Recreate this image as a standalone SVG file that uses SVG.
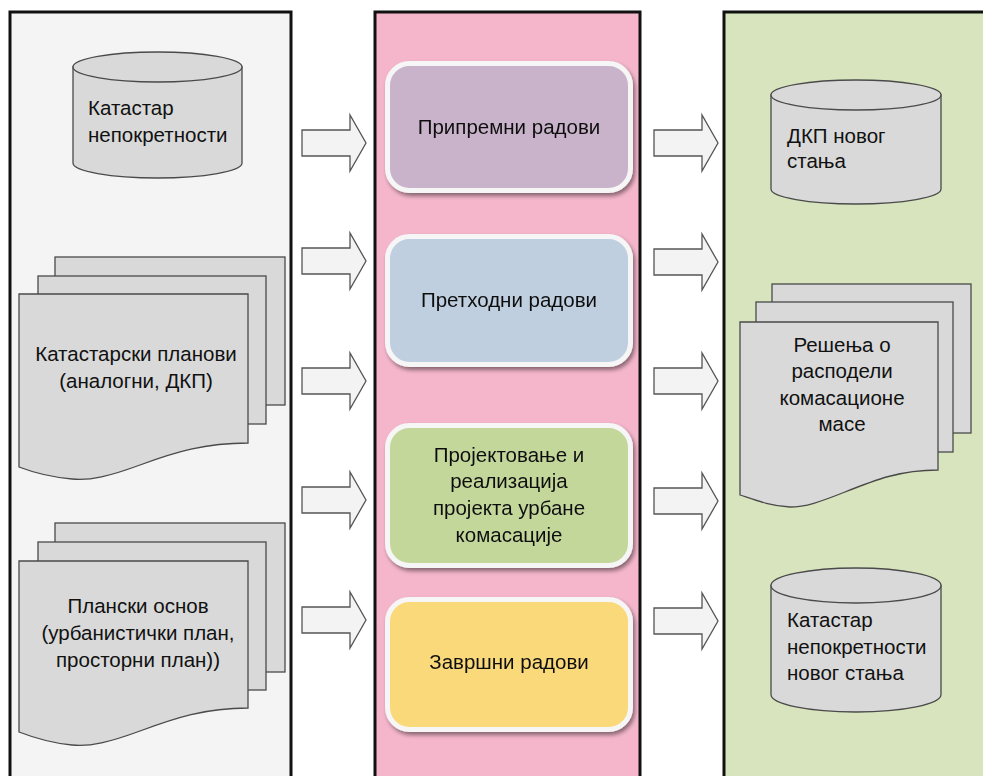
<svg xmlns="http://www.w3.org/2000/svg" width="983" height="776" viewBox="0 0 983 776">
<defs>
<style>
.panel{stroke:#111;stroke-width:3}
.shape{fill:#d9d9d9;stroke:#4a4a4a;stroke-width:1.3}
.arrow{fill:#f3f3f3;stroke:#555;stroke-width:1.3}
.box{stroke:#f6f6f6;stroke-width:5}
.t{font-family:"Liberation Sans",Arial,sans-serif;font-size:20.5px;fill:#111}
.c{text-anchor:middle}
</style>
<filter id="sh" x="-10%" y="-10%" width="125%" height="130%">
<feDropShadow dx="2" dy="3" stdDeviation="2" flood-color="#000" flood-opacity="0.45"/>
</filter>
</defs>
<rect width="983" height="776" fill="#ffffff"/>
<g id="panels">
<rect class="panel" x="10" y="12" width="281" height="800" fill="#f4f4f4"/>
<rect class="panel" x="375" y="12" width="265" height="800" fill="#f5b6cc"/>
<rect class="panel" x="724" y="12" width="280" height="800" fill="#d7e4bd"/>
</g>
<g id="connectors">
<path class="arrow" d="M302,130 H350 V115 L366,143 L350,171 V156 H302 Z"/>
<path class="arrow" d="M302,248 H350 V233 L366,261 L350,289 V274 H302 Z"/>
<path class="arrow" d="M302,368 H350 V353 L366,381 L350,409 V394 H302 Z"/>
<path class="arrow" d="M302,487 H350 V472 L366,500 L350,528 V513 H302 Z"/>
<path class="arrow" d="M302,607 H350 V592 L366,620 L350,648 V633 H302 Z"/>
<path class="arrow" d="M654,130 H702 V115 L718,143 L702,171 V156 H654 Z"/>
<path class="arrow" d="M654,249 H702 V234 L718,262 L702,290 V275 H654 Z"/>
<path class="arrow" d="M654,368 H702 V353 L718,381 L702,409 V394 H654 Z"/>
<path class="arrow" d="M654,488 H702 V473 L718,501 L702,529 V514 H654 Z"/>
<path class="arrow" d="M654,608 H702 V593 L718,621 L702,649 V634 H654 Z"/>
</g>
<g id="katastar">
<path class="shape" d="M73,67 V163 A84.5,15 0 0 0 242,163 V67 Z"/>
<ellipse class="shape" cx="157.5" cy="67" rx="84.5" ry="15" fill="#e3e3e3"/>
<text class="t" x="88" y="115">Катастар</text>
<text class="t" x="88" y="142">непокретности</text>
</g>
<g id="katastarski-planovi">
<rect class="shape" x="55" y="257" width="230" height="148"/>
<rect class="shape" x="38" y="276" width="228" height="148"/>
<path class="shape" d="M19,294 H248 V443 C205,443 175,452 140,465 C110,476 90,481 72,479 C50,477 32,472 19,467 Z"/>
<text class="t c" x="136" y="361">Катастарски планови</text>
<text class="t c" x="136" y="388">(аналогни, ДКП)</text>
</g>
<g id="planski-osnov">
<rect class="shape" x="55" y="523" width="230" height="149"/>
<rect class="shape" x="38" y="542" width="228" height="148"/>
<path class="shape" d="M19,561 H248 V708 C205,708 175,718 140,731 C110,742 90,747 72,745 C50,743 32,737 19,732 Z"/>
<text class="t c" x="138" y="613">Плански основ</text>
<text class="t c" x="138" y="640">(урбанистички план,</text>
<text class="t c" x="138" y="667">просторни план))</text>
</g>
<g id="pripremni" filter="url(#sh)">
<rect class="box" x="387.5" y="63.5" width="243" height="127" rx="22" fill="#c9b3ca"/>
<text class="t c" x="509" y="134">Припремни радови</text>
</g>
<g id="prethodni" filter="url(#sh)">
<rect class="box" x="387.5" y="236.5" width="243" height="128" rx="22" fill="#bfcfdf"/>
<text class="t c" x="509" y="307">Претходни радови</text>
</g>
<g id="projektovanje" filter="url(#sh)">
<rect class="box" x="387.5" y="425.5" width="243" height="140" rx="22" fill="#c4d79b"/>
<text class="t c" x="509" y="462">Пројектовање и</text>
<text class="t c" x="509" y="488">реализација</text>
<text class="t c" x="509" y="515">пројекта урбане</text>
<text class="t c" x="509" y="542">комасације</text>
</g>
<g id="zavrsni" filter="url(#sh)">
<rect class="box" x="387.5" y="599.5" width="243" height="130" rx="22" fill="#fad97a"/>
<text class="t c" x="509" y="669">Завршни радови</text>
</g>
<g id="dkp-novog">
<path class="shape" d="M771,95 V189 A85,15 0 0 0 941,189 V95 Z"/>
<ellipse class="shape" cx="856" cy="95" rx="85" ry="15" fill="#e3e3e3"/>
<text class="t" x="787" y="143">ДКП новог</text>
<text class="t" x="787" y="168">стања</text>
</g>
<g id="resenja">
<rect class="shape" x="772" y="284" width="199" height="149"/>
<rect class="shape" x="756" y="302" width="197" height="150"/>
<path class="shape" d="M740,322 H938 V470 C900,470 875,480 845,492 C820,502 805,507 790,507 C770,506 755,500 740,495 Z"/>
<text class="t c" x="842" y="352">Решења о</text>
<text class="t c" x="842" y="378">расподели</text>
<text class="t c" x="842" y="405">комасационе</text>
<text class="t c" x="842" y="431">масе</text>
</g>
<g id="katastar-novog">
<path class="shape" d="M771,585.5 V694.5 A85,17.5 0 0 0 941,694.5 V585.5 Z"/>
<ellipse class="shape" cx="856" cy="585.5" rx="85" ry="17.5" fill="#e3e3e3"/>
<text class="t" x="787" y="627">Катастар</text>
<text class="t" x="787" y="654">непокретности</text>
<text class="t" x="787" y="680">новог стања</text>
</g>
</svg>
